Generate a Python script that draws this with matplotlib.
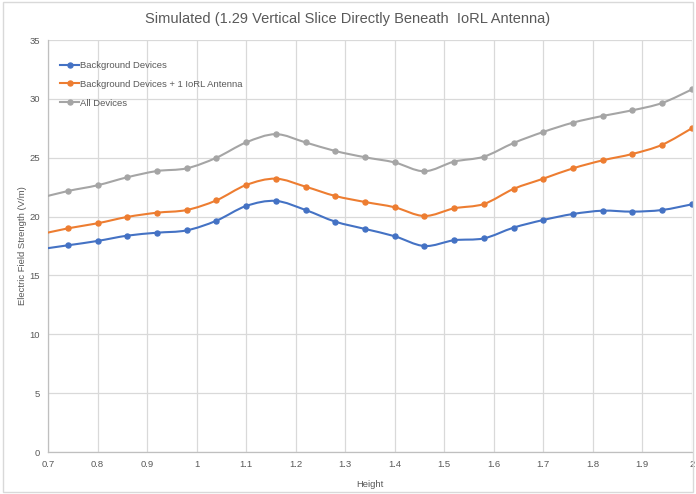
import matplotlib
matplotlib.use("Agg")
import matplotlib.pyplot as plt
import numpy as np
from matplotlib.path import Path
from matplotlib.patches import PathPatch, Rectangle
from matplotlib.lines import Line2D

plt.rcParams['font.family'] = ['Liberation Sans', 'DejaVu Sans']

height = [0.68, 0.74, 0.80, 0.86, 0.92, 0.98, 1.04, 1.10, 1.16, 1.22, 1.28, 1.34,
          1.40, 1.46, 1.52, 1.58, 1.64, 1.70, 1.76, 1.82, 1.88, 1.94, 2.00]

background = [17.2, 17.56, 17.93, 18.38, 18.63, 18.83, 19.65, 20.9, 21.33, 20.56, 19.57, 18.95,
              18.33, 17.5, 17.99, 18.15, 19.06, 19.71, 20.22, 20.5, 20.42, 20.56, 21.04]
background_iorl = [18.45, 19.0, 19.43, 19.97, 20.33, 20.56, 21.38, 22.68, 23.22, 22.54, 21.75, 21.24,
                   20.79, 20.05, 20.7, 21.07, 22.35, 23.22, 24.1, 24.78, 25.32, 26.1, 27.5]
all_devices = [21.54, 22.17, 22.66, 23.34, 23.87, 24.1, 25.0, 26.3, 27.0, 26.3, 25.57, 25.04,
               24.6, 23.85, 24.67, 25.09, 26.25, 27.19, 27.98, 28.55, 29.03, 29.65, 30.8]

series_names = ["Background Devices", "Background Devices + 1 IoRL Antenna", "All Devices"]
series_colors = ["#4472C4", "#ED7D31", "#A5A5A5"]

x_ticks = [0.7, 0.8, 0.9, 1.0, 1.1, 1.2, 1.3, 1.4, 1.5, 1.6, 1.7, 1.8, 1.9, 2.0]
x_ticklabels = ["0.7", "0.8", "0.9", "1", "1.1", "1.2", "1.3", "1.4", "1.5", "1.6", "1.7", "1.8", "1.9", "2"]
y_ticks = [0, 5, 10, 15, 20, 25, 30, 35]


def smooth_path(x, y):
    """Catmull-Rom style bezier through the points, like a spreadsheet smoothed line."""
    pts = np.column_stack([x, y])
    verts = [pts[0]]
    codes = [Path.MOVETO]
    n = len(pts)
    for i in range(n - 1):
        p0 = pts[max(i - 1, 0)]
        p1 = pts[i]
        p2 = pts[i + 1]
        p3 = pts[min(i + 2, n - 1)]
        c1 = p1 + (p2 - p0) / 6.0
        c2 = p2 - (p3 - p1) / 6.0
        verts += [c1, c2, p2]
        codes += [Path.CURVE4] * 3
    return Path(verts, codes)


fig = plt.figure(figsize=(6.96, 4.94), dpi=100)
ax = fig.add_axes([0.069, 0.085, 0.925, 0.834])

for vals, name, color in zip([background, background_iorl, all_devices], series_names, series_colors):
    patch = PathPatch(smooth_path(height, vals), fill=False, edgecolor=color, lw=1.5, zorder=3)
    ax.add_patch(patch)
    ax.plot(height, vals, linestyle='none', marker='o', markersize=3.6, color=color, zorder=4)

ax.set_xlim(0.7, 2.0)
ax.set_ylim(0, 35)
ax.set_xticks(x_ticks)
ax.set_xticklabels(x_ticklabels)
ax.set_yticks(y_ticks)
ax.grid(True, color="#D9D9D9", lw=0.9)
ax.set_axisbelow(True)
for side in ['top', 'right']:
    ax.spines[side].set_visible(False)
for side in ['left', 'bottom']:
    ax.spines[side].set_color("#BFBFBF")
    ax.spines[side].set_linewidth(0.9)
ax.tick_params(length=0, labelsize=6.8, labelcolor="#595959", pad=6)

ax.set_xlabel("Height", fontsize=6.8, color="#595959")
ax.set_ylabel("Electric Field Strength (V/m)", fontsize=6.8, color="#595959")
ax.xaxis.set_label_coords(0.5, -0.068)
ax.yaxis.set_label_coords(-0.033, 0.5)
fig.text(0.5, 0.961, "Simulated (1.29 Vertical Slice Directly Beneath  IoRL Antenna)",
         ha='center', va='center', fontsize=10.5, color="#595959")

handles = [Line2D([], [], color=c, lw=1.5, marker='o', markersize=3.6) for c in series_colors]
ax.legend(handles, series_names, loc='upper left', bbox_to_anchor=(0.006, 0.97), frameon=False,
          fontsize=6.8, labelcolor="#595959", handlelength=2.0, handletextpad=0.1, labelspacing=1.05)

fig.add_artist(Rectangle((0.004, 0.004), 0.992, 0.992, transform=fig.transFigure,
                         fill=False, edgecolor="#D9D9D9", lw=1.0))

fig.savefig("out.png", dpi=100)
